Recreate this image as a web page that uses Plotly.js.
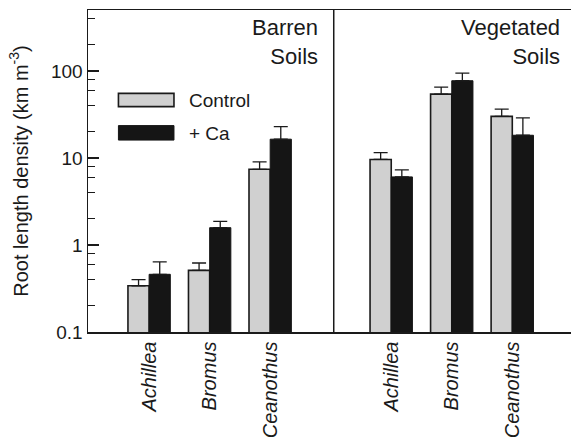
<!DOCTYPE html>
<html>
<head>
<meta charset="utf-8">
<script src="https://cdn.plot.ly/plotly-3.0.1.min.js"></script>
<style>html,body{margin:0;padding:0;background:#fff;}#chart{width:571px;height:437px;}</style>
</head>
<body>
<div id="chart"></div>
<script>
// ---- data ----
const soils = ['Barren', 'Barren', 'Barren', 'Vegetated', 'Vegetated', 'Vegetated'];
const species = ['Achillea', 'Bromus', 'Ceanothus', 'Achillea', 'Bromus', 'Ceanothus'];
const controlValues = [0.34, 0.51, 7.4, 9.6, 54, 30];
const controlErr = [0.06, 0.11, 1.6, 1.9, 11, 6.3];
const caValues = [0.46, 1.58, 16.4, 6.05, 77, 18.2];
const caErr = [0.18, 0.29, 6.5, 1.25, 17, 10.6];
const seriesNames = ['Control', '+ Ca'];
const yTickVals = [0.1, 1, 10, 100];
const yTickText = ['0.1', '1', '10', '100'];
const yMinorVals = [0.2, 0.4, 0.6, 0.8, 2, 4, 6, 8, 20, 40, 60, 80, 200, 400];
const panelLabels = ['Barren<br>Soils', 'Vegetated<br>Soils'];

// x positions: species index, with one empty slot between the soil groups
const xPos = species.map((s, i) => i + (soils[i] === 'Vegetated' ? 1 : 0));
const zeros = controlValues.map(() => 0);

const FONT = 'Liberation Sans, Arial, Helvetica, sans-serif';
const INK = '#1a1a1a';

const traces = [
  {
    type: 'bar', name: seriesNames[0], x: xPos, y: controlValues,
    marker: {color: '#d0d0d0', line: {color: INK, width: 1.6}},
    error_y: {type: 'data', symmetric: false, array: controlErr, arrayminus: zeros,
              color: INK, thickness: 1.3, width: 7},
    showlegend: false
  },
  {
    type: 'bar', name: seriesNames[1], x: xPos, y: caValues,
    marker: {color: '#151515', line: {color: '#151515', width: 1}},
    error_y: {type: 'data', symmetric: false, array: caErr, arrayminus: zeros,
              color: INK, thickness: 1.3, width: 7},
    showlegend: false
  }
];

const layout = {
  width: 571, height: 437,
  margin: {l: 88, r: 0, t: 10, b: 105},
  paper_bgcolor: '#fff', plot_bgcolor: '#fff',
  font: {family: FONT, color: INK},
  barmode: 'group', bargap: 0.3, bargroupgap: 0,
  xaxis: {
    range: [-1.01, 6.97], showgrid: false, zeroline: false,
    showline: true, mirror: true, linecolor: INK, linewidth: 1.5,
    ticks: '', tickmode: 'array', tickvals: xPos, ticktext: species,
    tickangle: -90, tickfont: {family: FONT, size: 20, style: 'italic', color: INK}
  },
  yaxis: {
    type: 'log', range: [-1, Math.log10(500)], showgrid: false, zeroline: false,
    showline: true, linecolor: INK, linewidth: 1.5,
    ticks: 'inside', ticklen: 11, tickwidth: 1.3, tickcolor: INK,
    tickmode: 'array', tickvals: yTickVals, ticktext: yTickText,
    tickfont: {family: FONT, size: 19, color: INK},
    minor: {tickmode: 'array', tickvals: yMinorVals, ticks: 'inside', ticklen: 7,
            tickwidth: 1.3, tickcolor: INK, showgrid: false},
    title: {text: 'Root length density (km m<sup>-3</sup>)', font: {family: FONT, size: 20, color: INK}, standoff: 17}
  },
  shapes: [
    {type: 'line', xref: 'x', yref: 'paper', x0: 3.05, x1: 3.05, y0: 0, y1: 1,
     line: {color: INK, width: 1.5}},
    {type: 'rect', xref: 'paper', yref: 'paper', x0: 0.063, x1: 0.178, y0: 0.700, y1: 0.741,
     fillcolor: '#d0d0d0', line: {color: INK, width: 1.6}},
    {type: 'rect', xref: 'paper', yref: 'paper', x0: 0.063, x1: 0.178, y0: 0.596, y1: 0.641,
     fillcolor: '#151515', line: {color: '#151515', width: 1}}
  ],
  annotations: [
    {xref: 'paper', yref: 'paper', x: 0.205, y: 0.719, xanchor: 'left', yanchor: 'middle',
     text: seriesNames[0], showarrow: false, font: {family: FONT, size: 19, color: INK}},
    {xref: 'paper', yref: 'paper', x: 0.205, y: 0.616, xanchor: 'left', yanchor: 'middle',
     text: seriesNames[1], showarrow: false, font: {family: FONT, size: 19, color: INK}},
    {xref: 'paper', yref: 'paper', x: 0.481, y: 0.99, xanchor: 'right', yanchor: 'top', align: 'right',
     text: panelLabels[0], showarrow: false, font: {family: FONT, size: 22, color: INK}},
    {xref: 'paper', yref: 'paper', x: 0.982, y: 0.99, xanchor: 'right', yanchor: 'top', align: 'right',
     text: panelLabels[1], showarrow: false, font: {family: FONT, size: 22, color: INK}}
  ]
};

Plotly.newPlot('chart', traces, layout, {displayModeBar: false, staticPlot: true});
</script>
</body>
</html>
